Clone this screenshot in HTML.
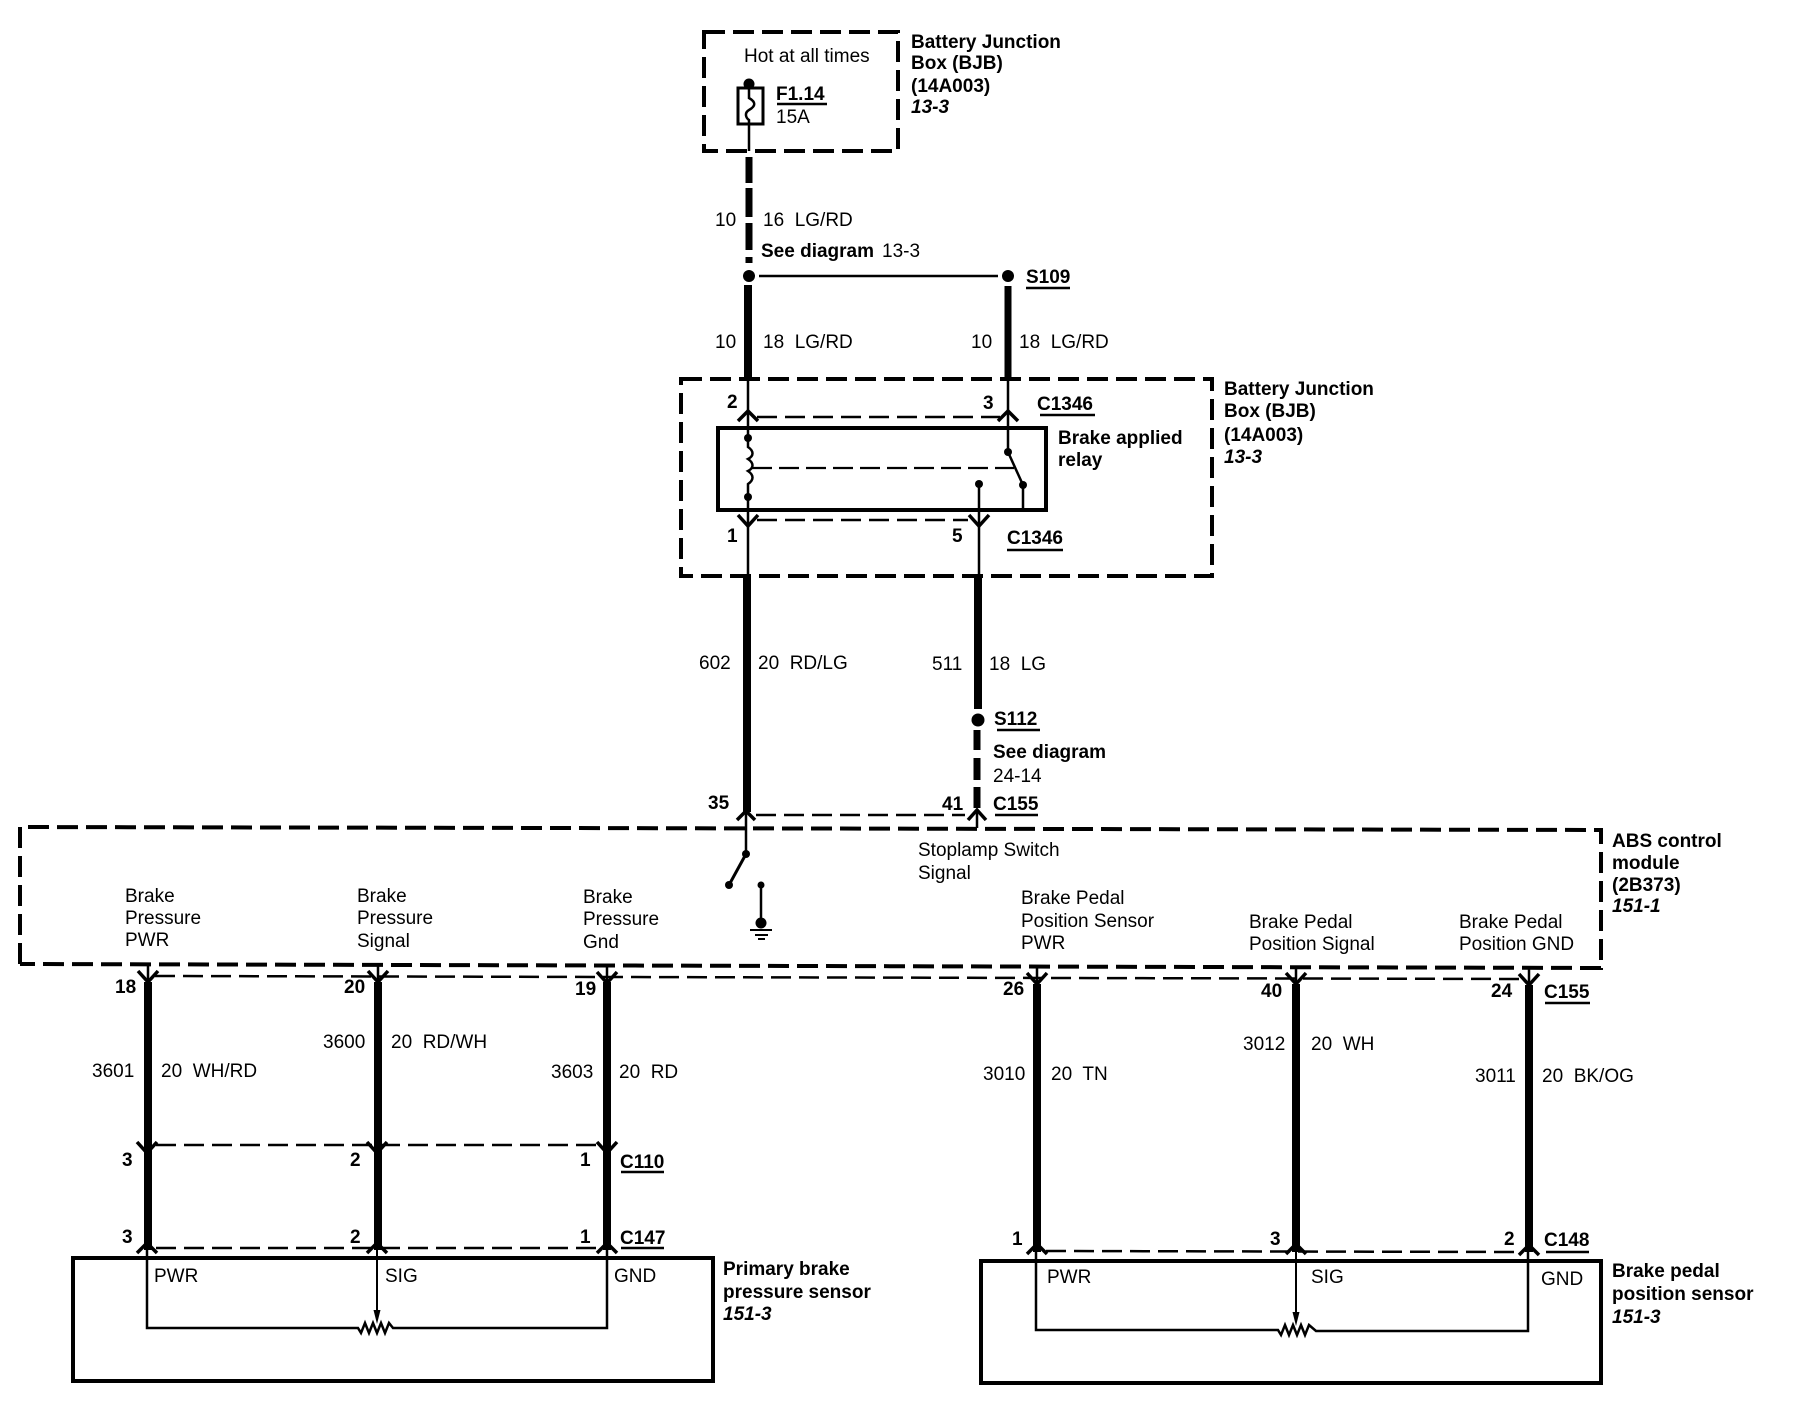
<!DOCTYPE html>
<html><head><meta charset="utf-8"><style>
html,body{margin:0;padding:0;background:#fff;width:1794px;height:1408px;overflow:hidden}
svg{display:block}
text{font-family:"Liberation Sans",Arial,sans-serif;font-size:19px;fill:#000;white-space:pre}
.b{font-weight:bold}
.i{font-weight:bold;font-style:italic}
.k{stroke:#000;fill:none}
.box{stroke-width:4;stroke-dasharray:21 8}
.thin{stroke-width:2.5;stroke-dasharray:20 8}
.w{stroke-width:8}
.t{stroke-width:2.5}
.c{stroke-width:3.5}
.u{stroke-width:2.5}
</style></head><body>
<svg width="1794" height="1408" viewBox="0 0 1794 1408" xmlns="http://www.w3.org/2000/svg">
<rect width="1794" height="1408" fill="#fff"/>

<!-- BJB top -->
<rect class="k box" x="704" y="32" width="194" height="119"/>
<text x="744" y="62">Hot at all times</text>
<circle cx="749" cy="84" r="5.5"/>
<rect class="k" x="738" y="88" width="25" height="36" stroke-width="3"/>
<path class="k t" d="M749 84V98C756 102 756 106 749 110C744 113 746 118 749 120V151"/>
<text class="b" x="776" y="100">F1.14</text>
<path class="k u" d="M777 104H827"/>
<text x="776" y="123">15A</text>
<text class="b" x="911" y="48">Battery Junction</text>
<text class="b" x="911" y="69">Box (BJB)</text>
<text class="b" x="911" y="92">(14A003)</text>
<text class="i" x="911" y="113">13-3</text>

<!-- feed -->
<path class="k" stroke-width="7" d="M749 157V183M749 188V217M749 223V250M749 257V263"/>
<circle cx="749" cy="276" r="6"/>
<path class="k" stroke-width="2.5" d="M759 276H998"/>
<circle cx="1008" cy="276" r="6"/>
<text x="715" y="226">10</text>
<text x="763" y="226">16  LG/RD</text>
<text class="b" x="761" y="257">See diagram</text>
<text x="882" y="257">13-3</text>
<text class="b" x="1026" y="283">S109</text>
<path class="k u" d="M1026 288H1070"/>
<path class="k w" d="M748 285V380"/>
<path class="k" stroke-width="7" d="M1008 286V380"/>
<text x="715" y="348">10</text>
<text x="763" y="348">18  LG/RD</text>
<text x="971" y="348">10</text>
<text x="1019" y="348">18  LG/RD</text>

<!-- BJB relay box -->
<rect class="k box" x="681" y="379" width="531" height="197"/>
<path class="k thin" d="M757 417H1000"/>
<path class="k t" d="M748 378V438M1008 378V452"/>
<path class="k c" d="M738 421L748 411L758 421M998 421L1008 411L1018 421"/>
<rect class="k" x="718" y="428" width="328" height="82" stroke-width="4"/>
<circle cx="748" cy="438" r="4"/>
<path class="k t" d="M748 438V447C754 451 754 456 748 459C754 463 754 468 748 471C754 475 754 480 748 484V497"/>
<circle cx="748" cy="497" r="4"/>
<path class="k" stroke-width="2.2" stroke-dasharray="20 7" d="M752 468H1014"/>
<circle cx="1008" cy="452" r="4"/>
<circle cx="1023" cy="485" r="4"/>
<path class="k t" d="M1008 452L1023 485V510"/>
<circle cx="979" cy="484" r="4"/>
<path class="k t" d="M979 484V577M748 497V577"/>
<path class="k thin" d="M757 520H968"/>
<path class="k c" d="M738 515L748 526L758 515M969 515L979 526L989 515"/>
<text class="b" x="727" y="408">2</text>
<text class="b" x="983" y="409">3</text>
<text class="b" x="1037" y="410">C1346</text>
<path class="k u" d="M1040 415H1095"/>
<text class="b" x="1058" y="444">Brake applied</text>
<text class="b" x="1058" y="466">relay</text>
<text class="b" x="727" y="542">1</text>
<text class="b" x="952" y="542">5</text>
<text class="b" x="1007" y="544">C1346</text>
<path class="k u" d="M1007 550H1063"/>
<text class="b" x="1224" y="395">Battery Junction</text>
<text class="b" x="1224" y="417">Box (BJB)</text>
<text class="b" x="1224" y="441">(14A003)</text>
<text class="i" x="1224" y="463">13-3</text>

<!-- mid wires -->
<path class="k w" d="M747 574V812"/>
<path class="k w" d="M978 574V709"/>
<circle cx="978" cy="720" r="6.5"/>
<path class="k" stroke-width="7" d="M977 730V750M977 758V780M977 787V808"/>
<text x="699" y="669">602</text>
<text x="758" y="669">20  RD/LG</text>
<text x="932" y="670">511</text>
<text x="989" y="670">18  LG</text>
<text class="b" x="994" y="725">S112</text>
<path class="k u" d="M997 730H1040"/>
<text class="b" x="993" y="758">See diagram</text>
<text x="993" y="782">24-14</text>
<text class="b" x="708" y="809">35</text>
<text class="b" x="942" y="810">41</text>
<text class="b" x="993" y="810">C155</text>
<path class="k u" d="M995 815H1038"/>
<path class="k thin" d="M756 815H965"/>
<path class="k c" d="M737 820L746 811L755 820M968 820L977 810L986 820"/>
<path class="k t" d="M746 811V854M977 810V828"/>

<!-- ABS box -->
<path class="k box" d="M20 964V827L1601 830V968L20 964"/>
<circle cx="746" cy="854" r="4"/>
<path class="k" stroke-width="3" d="M746 854L729 885"/>
<circle cx="729" cy="885" r="4"/>
<circle cx="761" cy="885" r="3.5"/>
<path class="k t" d="M761 885V920"/>
<circle cx="761" cy="923" r="5.5"/>
<path d="M750 929H772V931H750ZM755 934H768V936H755ZM758 938H765V940H758Z"/>
<text x="918" y="856">Stoplamp Switch</text>
<text x="918" y="879">Signal</text>
<text class="b" x="1612" y="847">ABS control</text>
<text class="b" x="1612" y="869">module</text>
<text class="b" x="1612" y="891">(2B373)</text>
<text class="i" x="1612" y="912">151-1</text>

<text x="125" y="902">Brake</text><text x="125" y="924">Pressure</text><text x="125" y="946">PWR</text>
<text x="357" y="902">Brake</text><text x="357" y="924">Pressure</text><text x="357" y="947">Signal</text>
<text x="583" y="903">Brake</text><text x="583" y="925">Pressure</text><text x="583" y="948">Gnd</text>
<text x="1021" y="904">Brake Pedal</text><text x="1021" y="927">Position Sensor</text><text x="1021" y="949">PWR</text>
<text x="1249" y="928">Brake Pedal</text><text x="1249" y="950">Position Signal</text>
<text x="1459" y="928">Brake Pedal</text><text x="1459" y="950">Position GND</text>

<!-- lower dashed + connectors -->
<path class="k thin" d="M155 976L1525 979"/>
<path class="k t" d="M148 964V985M378 965V985M607 965V985M1037 966V985M1296 966V985M1529 967V985"/>
<path class="k c" d="M138 971L148 982L158 971M368 971L378 982L388 971M597 972L607 983L617 972M1027 973L1037 984L1047 973M1286 973L1296 984L1306 973M1519 974L1529 985L1539 974"/>
<path class="k w" d="M148 982V1250M378 982V1250M607 982V1250M1037 984V1252M1296 984V1252M1529 985V1252"/>
<text class="b" x="115" y="993">18</text>
<text class="b" x="344" y="993">20</text>
<text class="b" x="575" y="995">19</text>
<text class="b" x="1003" y="995">26</text>
<text class="b" x="1261" y="997">40</text>
<text class="b" x="1491" y="997">24</text>
<text class="b" x="1544" y="998">C155</text>
<path class="k u" d="M1545 1003H1590"/>

<text x="92" y="1077">3601</text><text x="161" y="1077">20  WH/RD</text>
<text x="323" y="1048">3600</text><text x="391" y="1048">20  RD/WH</text>
<text x="551" y="1078">3603</text><text x="619" y="1078">20  RD</text>
<text x="983" y="1080">3010</text><text x="1051" y="1080">20  TN</text>
<text x="1243" y="1050">3012</text><text x="1311" y="1050">20  WH</text>
<text x="1475" y="1082">3011</text><text x="1542" y="1082">20  BK/OG</text>

<!-- C110 -->
<path class="k thin" d="M156 1145H600"/>
<path class="k c" d="M137 1142L147 1153L157 1142M367 1142L377 1153L387 1142M597 1142L607 1153L617 1142"/>
<text class="b" x="122" y="1166">3</text>
<text class="b" x="350" y="1166">2</text>
<text class="b" x="580" y="1166">1</text>
<text class="b" x="620" y="1168">C110</text>
<path class="k u" d="M621 1172H664"/>

<!-- C147 -->
<path class="k thin" d="M156 1248H600"/>
<path class="k c" d="M137 1253L147 1243L157 1253M367 1253L377 1243L387 1253M597 1253L607 1243L617 1253"/>
<text class="b" x="122" y="1243">3</text>
<text class="b" x="350" y="1243">2</text>
<text class="b" x="580" y="1243">1</text>
<text class="b" x="620" y="1244">C147</text>
<path class="k u" d="M621 1248H664"/>

<!-- Primary sensor -->
<rect class="k" x="73" y="1258" width="640" height="123" stroke-width="4"/>
<path class="k t" d="M147 1250V1328H358L361 1333L365 1323L369 1333L373 1323L377 1333L381 1323L385 1333L389 1323L393 1328H607V1250"/>
<path class="k" stroke-width="2" d="M377 1250V1312"/>
<path d="M373.5 1310H380.5L377 1324Z"/>
<text x="154" y="1282">PWR</text>
<text x="385" y="1282">SIG</text>
<text x="614" y="1282">GND</text>
<text class="b" x="723" y="1275">Primary brake</text>
<text class="b" x="723" y="1298">pressure sensor</text>
<text class="i" x="723" y="1320">151-3</text>

<!-- C148 -->
<path class="k thin" d="M1046 1251L1519 1252"/>
<path class="k c" d="M1027 1254L1037 1244L1047 1254M1286 1254L1296 1244L1306 1254M1519 1255L1529 1245L1539 1255"/>
<text class="b" x="1012" y="1245">1</text>
<text class="b" x="1270" y="1245">3</text>
<text class="b" x="1504" y="1245">2</text>
<text class="b" x="1544" y="1246">C148</text>
<path class="k u" d="M1546 1252H1589"/>

<!-- Pedal sensor -->
<rect class="k" x="981" y="1261" width="620" height="122" stroke-width="4"/>
<path class="k t" d="M1036 1252V1330H1278L1281 1335L1285 1325L1289 1335L1293 1325L1297 1335L1301 1325L1305 1335L1309 1325L1316 1331H1528V1252"/>
<path class="k" stroke-width="2" d="M1296 1252V1314"/>
<path d="M1292.5 1312H1299.5L1296 1326Z"/>
<text x="1047" y="1283">PWR</text>
<text x="1311" y="1283">SIG</text>
<text x="1541" y="1285">GND</text>
<text class="b" x="1612" y="1277">Brake pedal</text>
<text class="b" x="1612" y="1300">position sensor</text>
<text class="i" x="1612" y="1323">151-3</text>
</svg>
</body></html>
